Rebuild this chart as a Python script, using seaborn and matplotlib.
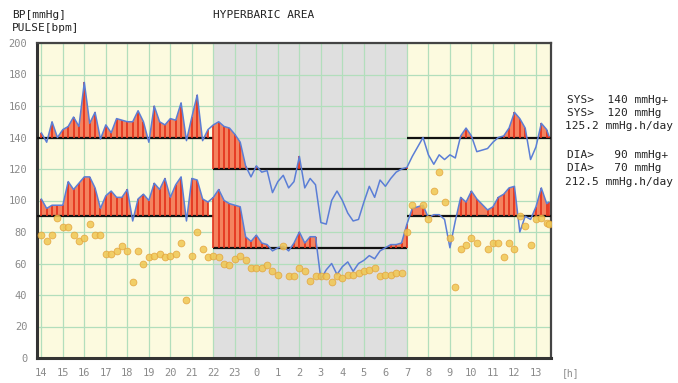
import numpy as np
import pandas as pd
import seaborn as sns
import matplotlib
matplotlib.use('Agg')
import matplotlib.pyplot as plt

# measurement times in hours (24+ means next day)
times_day1 = [14.0, 14.25, 14.5, 14.75, 15.0, 15.25, 15.5, 15.75, 16.0, 16.25, 16.5, 16.75,
              17.0, 17.25, 17.5, 17.75, 18.0, 18.25, 18.5, 18.75, 19.0, 19.25, 19.5, 19.75,
              20.0, 20.25, 20.5, 20.75, 21.0, 21.25, 21.5, 21.75]
sys_day1 = [143, 137, 150, 140, 145, 147, 153, 147, 175, 149, 156, 139, 148, 143, 152, 151,
            150, 150, 157, 150, 137, 160, 150, 148, 152, 151, 162, 138, 153, 167, 138, 145]
dia_day1 = [101, 95, 97, 97, 97, 112, 107, 111, 115, 115, 108, 95, 103, 106, 102, 102,
            107, 87, 101, 104, 100, 111, 107, 114, 102, 110, 115, 87, 114, 113, 101, 99]
pulse_day1 = [78, 74, 78, 89, 83, 83, 78, 74, 76, 85, 78, 78, 66, 66, 68, 71,
              68, 48, 68, 60, 64, 65, 66, 64, 65, 66, 73, 37, 65, 80, 69, 64]

times_night = [22.0, 22.25, 22.5, 22.75, 23.0, 23.25, 23.5, 23.75, 24.0, 24.25, 24.5, 24.75,
               25.0, 25.25, 25.5, 25.75, 26.0, 26.25, 26.5, 26.75, 27.0, 27.25, 27.5, 27.75,
               28.0, 28.25, 28.5, 28.75, 29.0, 29.25, 29.5, 29.75, 30.0, 30.25, 30.5, 30.75, 31.0]
sys_night = [148, 150, 147, 146, 142, 137, 122, 115, 122, 118, 119, 105, 112, 116, 108, 112,
             128, 108, 114, 110, 86, 85, 100, 106, 100, 92, 87, 88, 99, 109, 102, 113,
             109, 114, 118, 120, 121]
dia_night = [102, 107, 100, 98, 97, 96, 77, 74, 78, 73, 72, 68, 70, 71, 68, 73,
             80, 73, 77, 77, 50, 56, 60, 53, 58, 61, 55, 60, 62, 65, 63, 68,
             70, 72, 72, 73, 85]
pulse_night = [65, 64, 60, 59, 63, 65, 62, 57, 57, 57, 59, 55, 53, 71, 52, 52,
               57, 55, 49, 52, 52, 52, 48, 52, 51, 53, 53, 54, 55, 56, 57, 52,
               53, 53, 54, 54, 80]

times_day2 = [31.25, 31.75, 32.0, 32.25, 32.5, 32.75, 33.0, 33.25, 33.5, 33.75, 34.0, 34.25,
              34.75, 35.0, 35.25, 35.5, 35.75, 36.0, 36.25, 36.5, 36.75, 37.0, 37.25, 37.5, 37.6]
sys_day2 = [128, 140, 129, 123, 129, 126, 129, 127, 141, 146, 141, 131,
            133, 137, 140, 141, 146, 156, 152, 146, 126, 134, 149, 145, 141]
dia_day2 = [95, 97, 89, 91, 91, 88, 70, 87, 102, 99, 106, 101,
            94, 96, 102, 104, 108, 109, 80, 90, 88, 96, 108, 98, 99]
pulse_day2 = [97, 97, 88, 106, 118, 99, 76, 45, 69, 72, 76, 73,
              69, 73, 73, 64, 73, 69, 90, 84, 72, 88, 89, 86, 85]

hour_ticks = list(range(14, 38))
sys_limit = {'day1': 140, 'night': 120, 'day2': 140}
dia_limit = {'day1': 90, 'night': 70, 'day2': 90}

df = pd.DataFrame({
    'time': times_day1 + times_night + times_day2,
    'sys': sys_day1 + sys_night + sys_day2,
    'dia': dia_day1 + dia_night + dia_day2,
    'pulse': pulse_day1 + pulse_night + pulse_day2,
    'period': ['day1'] * len(times_day1) + ['night'] * len(times_night) + ['day2'] * len(times_day2),
})

sns.set_style('white')
plt.rcParams['font.family'] = ['DejaVu Sans Mono']

fig = plt.figure(figsize=(6.78, 3.83), dpi=100)
ax = fig.add_axes([37 / 678, 25 / 383, 514 / 678, 315 / 383])
x0, x1 = 13.8, 37.7
ax.set_facecolor('#FCFADF')
ax.axvspan(22, 31, color='#DFDFDF', lw=0, zorder=0.1)

span = {'day1': (x0, 22), 'night': (22, 31), 'day2': (31, x1)}
for period, sub in df.groupby('period'):
    for col, lims in (('sys', sys_limit), ('dia', dia_limit)):
        lim = lims[period]
        ax.hlines(lim, *span[period], color='#111111', lw=1.6, zorder=3)
        ax.fill_between(sub['time'], lim, sub[col], where=sub[col] > lim,
                        interpolate=True, color='#F4835F', lw=0, zorder=2)
        over = sub[sub[col] > lim]
        ax.vlines(over['time'], lim, over[col], color='#E4301A', lw=1.2, zorder=4)

sns.lineplot(data=df, x='time', y='sys', color='#5B7ED6', lw=1.1, ax=ax, zorder=5)
sns.lineplot(data=df, x='time', y='dia', color='#5B7ED6', lw=1.1, ax=ax, zorder=5)
sns.scatterplot(data=df, x='time', y='pulse', color='#F0C752', edgecolor='#E3A33C',
                s=24, linewidth=0.6, alpha=0.85, ax=ax, zorder=6)

ax.set_xlim(x0, x1)
ax.set_ylim(0, 200)
ax.set_xticks(hour_ticks)
ax.set_xticklabels([str(h % 24) for h in hour_ticks])
ax.set_yticks(range(0, 201, 20))
ax.grid(True, color='#B2DEBC', lw=0.9)
ax.set_axisbelow(True)
for line in ax.get_xgridlines() + ax.get_ygridlines():
    line.set_zorder(0.5)
ax.set_xlabel('')
ax.set_ylabel('')
ax.tick_params(axis='both', direction='out', length=4, width=0.8, color='#888888',
               labelcolor='#8A8A8A', labelsize=7.5, pad=3)
for side in ('left', 'bottom'):
    ax.spines[side].set_linewidth(2.2)
    ax.spines[side].set_color('#333333')
for side in ('top', 'right'):
    ax.spines[side].set_linewidth(1.6)
    ax.spines[side].set_color('#444444')

def label(x, y, s, **kw):
    fig.text(x / 678, 1 - y / 383, s, fontsize=8, color='#222222', va='center', **kw)

label(12, 15, 'BP[mmHg]')
label(12, 28, 'PULSE[bpm]')
label(213, 15, 'HYPERBARIC AREA')
label(567, 100, 'SYS>  140 mmHg+')
label(567, 113, 'SYS>  120 mmHg')
label(565, 126, '125.2 mmHg.h/day')
label(567, 155, 'DIA>   90 mmHg+')
label(567, 168, 'DIA>   70 mmHg')
label(565, 182, '212.5 mmHg.h/day')
fig.text(562 / 678, 1 - 373 / 383, '[h]', fontsize=7, color='#8A8A8A', va='center')

fig.savefig('out.png', dpi=100)
